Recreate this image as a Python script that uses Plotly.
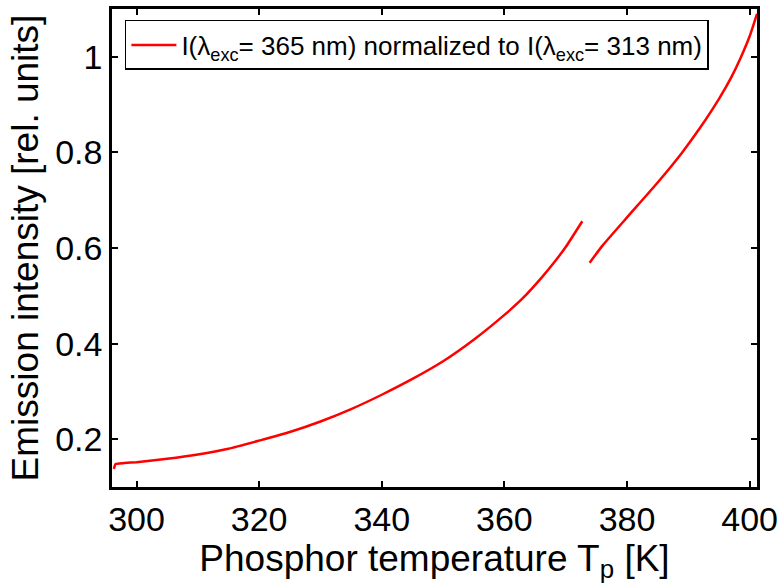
import plotly.graph_objects as go

# Segment 1 (measurement before gap)
temp_a = [296.3, 296.6, 298, 300, 305, 310, 315, 320, 325, 330, 335, 340, 345,
          350, 355, 360, 363, 366, 368, 370, 372.7]
int_a = [0.138, 0.148, 0.150, 0.152, 0.159, 0.168, 0.180, 0.197, 0.215, 0.237,
         0.263, 0.293, 0.326, 0.363, 0.408, 0.460, 0.495, 0.537, 0.568, 0.602,
         0.656]
# Segment 2 (after gap)
temp_b = [373.9, 376, 380, 385, 389, 392, 395, 397, 398.5, 400, 401.2]
int_b = [0.569, 0.605, 0.664, 0.737, 0.800, 0.853, 0.912, 0.957, 0.997, 1.043,
         1.090]

x_ticks = [300, 320, 340, 360, 380, 400]
y_ticks = [0.2, 0.4, 0.6, 0.8, 1.0]
y_tick_text = ["0.2", "0.4", "0.6", "0.8", "1"]

legend_label = "I(λ<sub>exc</sub>= 365 nm) normalized to I(λ<sub>exc</sub>= 313 nm)"

temps = temp_a + [None] + temp_b
ints = int_a + [None] + int_b

fig = go.Figure()
fig.add_trace(go.Scatter(x=temps, y=ints, mode="lines", name=legend_label,
                         line=dict(color="#ff0000", width=2.5, shape="spline",
                                   smoothing=0.5),
                         connectgaps=False))

font = "Liberation Sans, Arial, Helvetica, sans-serif"
fig.update_layout(
    width=784, height=585,
    margin=dict(l=112, r=26, t=6, b=98),
    paper_bgcolor="white", plot_bgcolor="white",
    font=dict(family=font, color="black", size=34),
    showlegend=True,
    legend=dict(x=0.02, y=0.977, xanchor="left", yanchor="top",
                bgcolor="white", bordercolor="black", borderwidth=1.5,
                font=dict(size=26, family=font), itemwidth=45),
    xaxis=dict(range=[296.0, 401.2], tickvals=x_ticks, ticks="inside", ticklen=6,
               tickwidth=2, tickcolor="black", showline=True, linewidth=2.5,
               linecolor="black", mirror="ticks", showgrid=False, zeroline=False,
               tickfont=dict(size=34),
               title=dict(text="Phosphor temperature T<sub>p</sub> [K]",
                          font=dict(size=37), standoff=0)),
    yaxis=dict(range=[0.1, 1.1], tickvals=y_ticks, ticktext=y_tick_text,
               ticks="inside", ticklen=6, tickwidth=2, tickcolor="black",
               showline=True, linewidth=2.5, linecolor="black", mirror="ticks",
               showgrid=False, zeroline=False, tickfont=dict(size=34),
               title=dict(text="Emission intensity [rel. units]",
                          font=dict(size=37), standoff=6)),
)

fig.write_html("out.html")
